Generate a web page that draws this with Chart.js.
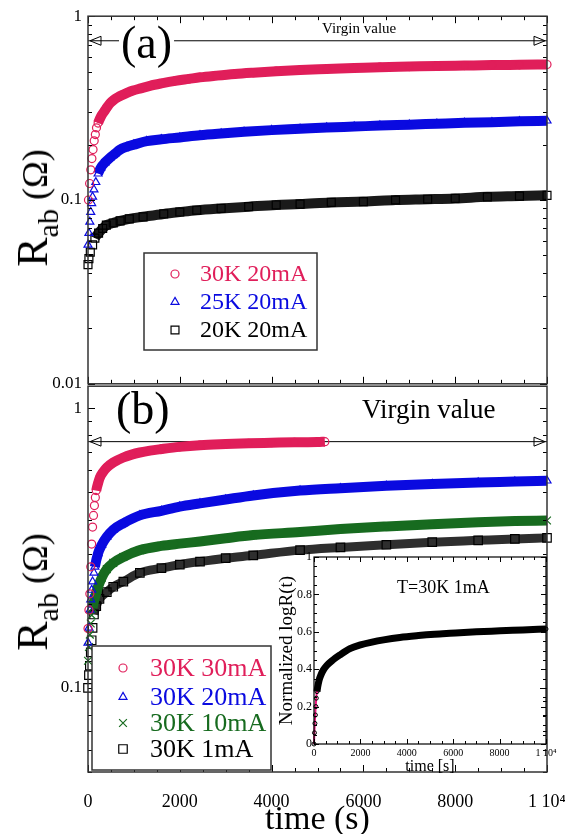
<!DOCTYPE html>
<html><head><meta charset="utf-8">
<script src="https://cdn.jsdelivr.net/npm/chart.js@4.4.0/dist/chart.umd.min.js"></script>
<style>
html,body{margin:0;padding:0;background:#fff;}
body{width:565px;height:834px;position:relative;overflow:hidden;}
canvas{position:absolute;}
.lbl{position:absolute;font-family:'Liberation Serif','Times New Roman',serif;color:#000;white-space:nowrap;line-height:1;}
.rot{transform:translate(-50%,-50%) rotate(-90deg);}
</style></head><body>
<canvas id="ca" width="600" height="400" style="left:0;top:0"></canvas>
<canvas id="cb" width="600" height="480" style="left:0;top:370px"></canvas>
<canvas id="ci" width="295" height="232" style="left:270px;top:545px"></canvas>
<div class="lbl rot" style="left:33px;top:208px;"><span style="font-size:44px">R</span><span style="font-size:30px;position:relative;top:0.35em">ab</span><span style="font-size:36px">&nbsp;(Ω)</span></div>
<div class="lbl rot" style="left:33px;top:592px;"><span style="font-size:44px">R</span><span style="font-size:30px;position:relative;top:0.35em">ab</span><span style="font-size:36px">&nbsp;(Ω)</span></div>
<script>
const serif = "'Liberation Serif','Times New Roman',serif";

// ---------- Panel (a) data ----------
const tA30 = [10,35,60,85,110,135,160,185,220,260,300,360,420,480,560,650,750,850,980,1150,1350,1600,1900,2200,2440,2800,3200,3600,4100,4620,5200,5800,6360,7000,7600,8200,8800,9400,10000];
const rA30 = [0.100,0.123,0.146,0.168,0.188,0.210,0.227,0.247,0.262,0.277,0.290,0.305,0.321,0.336,0.350,0.362,0.373,0.383,0.394,0.405,0.418,0.431,0.445,0.456,0.465,0.475,0.485,0.493,0.502,0.510,0.516,0.522,0.528,0.532,0.536,0.539,0.542,0.544,0.546];
const tA25 = [0,20,40,60,80,100,130,170,220,280,370,480,580,700,850,1000,1280,1600,2000,2440,2900,3400,4000,4620,5200,5800,6360,7000,7600,8200,8800,9400,10000];
const rA25 = [0.057,0.066,0.076,0.086,0.096,0.104,0.114,0.125,0.139,0.150,0.160,0.170,0.178,0.188,0.195,0.200,0.209,0.214,0.219,0.225,0.230,0.235,0.240,0.244,0.248,0.251,0.254,0.257,0.260,0.263,0.265,0.268,0.270];
const tA20 = [0,20,50,100,150,230,320,400,550,700,900,1200,1650,2000,2370,2900,3500,4100,4620,5300,6000,6700,7400,8000,8700,9400,10000];
const rA20 = [0.0445,0.048,0.052,0.057,0.062,0.066,0.070,0.073,0.075,0.077,0.079,0.081,0.084,0.086,0.088,0.090,0.092,0.094,0.095,0.097,0.098,0.100,0.101,0.102,0.104,0.105,0.106];
const virginA = 0.735;
const labelsA = ['30K 20mA','25K 20mA','20K 20mA'];

// ---------- Panel (b) data ----------
const tB30 = [0,20,40,60,80,100,120,140,160,180,220,260,330,410,550,770,950,1130,1350,1600,2000,2440,3000,3500,4000,4500,5000,5160];
const rB30 = [0.163,0.190,0.217,0.271,0.327,0.376,0.414,0.449,0.480,0.508,0.540,0.566,0.592,0.614,0.640,0.667,0.683,0.695,0.706,0.715,0.728,0.738,0.745,0.750,0.753,0.756,0.758,0.760];
const tB20 = [0,20,45,60,80,100,130,150,220,300,410,550,770,1130,1600,2000,2440,3000,3600,4620,5500,6500,7500,8500,9300,10000];
const rB20 = [0.145,0.164,0.190,0.207,0.224,0.240,0.258,0.271,0.303,0.325,0.347,0.368,0.388,0.414,0.430,0.445,0.457,0.472,0.488,0.508,0.518,0.528,0.536,0.543,0.547,0.551];
const tB10 = [0,20,40,60,80,100,150,200,300,410,550,770,1130,1600,2000,2440,3000,3600,4620,5500,6500,7500,8500,9300,10000];
const rB10 = [0.125,0.140,0.155,0.170,0.182,0.193,0.210,0.225,0.248,0.266,0.280,0.294,0.311,0.322,0.328,0.334,0.343,0.352,0.361,0.370,0.378,0.385,0.391,0.395,0.397];
const tB1 = [0,20,40,60,80,100,130,180,250,410,550,770,1130,1600,2000,2440,3000,3600,4620,5500,6500,7500,8500,9300,10000];
const rB1 = [0.100,0.111,0.120,0.134,0.148,0.164,0.183,0.196,0.208,0.220,0.230,0.240,0.258,0.268,0.276,0.283,0.291,0.298,0.311,0.318,0.325,0.332,0.337,0.341,0.344];
const virginB = 0.76;
const labelsB = ['30K 30mA','30K 20mA','30K 10mA','30K 1mA'];

// ---------- Inset data ----------
const tIn = [0,20,40,60,80,100,130,160,220,300,400,550,820,1100,1550,2000,2500,3000,3700,4500,5200,5860,7000,8020,9000,10000];
const nIn = [0,0.06,0.11,0.155,0.2,0.245,0.28,0.306,0.342,0.37,0.395,0.42,0.45,0.475,0.51,0.53,0.545,0.557,0.57,0.58,0.587,0.592,0.6,0.605,0.61,0.615];
const nFit = [0,0.075,0.13,0.175,0.215,0.25,0.28,0.3,0.33,0.358,0.383,0.408,0.44,0.465,0.5,0.52,0.537,0.55,0.563,0.575,0.583,0.589,0.598,0.604,0.61,0.618];

// ---------- tick labels ----------
const xTickVals = [0,2000,4000,6000,8000,10000];
const xTickLabels = ['0','2000','4000','6000','8000','1 10⁴'];
const yTickValsA = [0.01,0.1,1];
const yTickLabelsA = ['0.01','0.1','1'];
const yTickValsB = [0.1,1];
const yTickLabelsB = ['0.1','1'];
const inYVals = [0,0.2,0.4,0.6,0.8,1];
const inYLabels = ['0','0.2','0.4','0.6','0.8','1'];

const RED='#e01e5a', BLUE='#0a0ae0', GREEN='#176b1f', BLACK='#000';

function pts(ts, vs){ return ts.map((t,i)=>({x:t,y:vs[i]})); }
function series(label, ts, vs, color, band, textColor, style, r, lineFrom, bw){
  return {label, data:pts(ts,vs), textColor, borderColor:band, borderWidth:bw||10,
    pointStyle:style, pointRadius:r, pointHoverRadius:r, pointBorderColor:color,
    pointBackgroundColor:'rgba(0,0,0,0)', pointBorderWidth:1.2,
    cubicInterpolationMode:'monotone', clip:false,
    segment:{borderColor:c=> c.p0.parsed.x < lineFrom ? 'rgba(0,0,0,0)' : band}};
}
function virgin(v){
  return {label:'virgin', isVirgin:true, data:[{x:0,y:v},{x:10000,y:v}], borderColor:'#000', borderWidth:1, pointRadius:0, clip:false};
}
function lookup(vals, labels){
  return v => { const i = vals.findIndex(t => Math.abs(t - v) <= Math.abs(t)*1e-6 + 1e-9); return i>=0 ? labels[i] : ''; };
}

let pid=0;
function decor(cfg){
  return {id:'decor'+(++pid), afterDraw(chart){
    const {ctx, chartArea:a, scales:{x,y}} = chart;
    ctx.save();
    ctx.strokeStyle='#000'; ctx.lineWidth=1;
    const line=(x1,y1,x2,y2)=>{ctx.beginPath();ctx.moveTo(x1,y1);ctx.lineTo(x2,y2);ctx.stroke();};
    for(let v=x.min; v<=x.max+1e-6; v+=cfg.xMinor){
      const px=Math.round(x.getPixelForValue(v))+0.5;
      const major=Math.abs(v/cfg.xMajor-Math.round(v/cfg.xMajor))<1e-6;
      const L=major?cfg.maj:cfg.min;
      if(cfg.bottom) line(px,a.bottom,px,a.bottom-L);
      if(cfg.top) line(px,a.top,px,a.top+L);
    }
    const yv=[];
    if(cfg.log){
      for(let d=Math.floor(Math.log10(y.min)); d<=Math.ceil(Math.log10(y.max)); d++)
        for(let m=1;m<=9;m++){const v=m*Math.pow(10,d); if(v>=y.min*0.999&&v<=y.max*1.001) yv.push([v,m===1]);}
    } else {
      for(let v=y.min; v<=y.max+1e-6; v+=cfg.yMinor) yv.push([v,Math.abs(v/cfg.yMajor-Math.round(v/cfg.yMajor))<1e-6]);
    }
    yv.forEach(([v,maj])=>{
      const py=Math.round(y.getPixelForValue(v))+0.5; const L=maj?cfg.maj:cfg.min;
      line(a.left,py,a.left+L,py); line(a.right,py,a.right-L,py);
    });
    ctx.strokeStyle=cfg.frameColor||'#333'; ctx.lineWidth=cfg.frameW||1.5;
    ctx.strokeRect(a.left,a.top,a.right-a.left,a.bottom-a.top);
    chart.data.datasets.forEach((d,i)=>{
      if(!d.isVirgin) return;
      const m=chart.getDatasetMeta(i); const p0=m.data[0], p1=m.data[m.data.length-1];
      ctx.strokeStyle='#000'; ctx.lineWidth=1;
      ctx.beginPath(); ctx.moveTo(p0.x+13,p0.y-4.5); ctx.lineTo(p0.x+2,p0.y); ctx.lineTo(p0.x+13,p0.y+4.5); ctx.closePath(); ctx.stroke();
      ctx.beginPath(); ctx.moveTo(p1.x-13,p1.y-4.5); ctx.lineTo(p1.x-2,p1.y); ctx.lineTo(p1.x-13,p1.y+4.5); ctx.closePath(); ctx.stroke();
    });
    (cfg.texts||[]).forEach(t=>{
      ctx.font=t.font; ctx.textAlign='left'; ctx.textBaseline='alphabetic';
      if(t.bg){ const w=ctx.measureText(t.text).width; ctx.fillStyle='#fff'; ctx.fillRect(t.x-2,t.y-t.size*0.8,w+4,t.size); }
      ctx.fillStyle=t.color||'#000'; ctx.fillText(t.text,t.x,t.y);
    });
    const L=cfg.legend;
    if(L){
      ctx.fillStyle='#fff'; ctx.fillRect(L.x,L.y,L.w,L.h);
      ctx.strokeStyle='#333'; ctx.lineWidth=1.5; ctx.strokeRect(L.x,L.y,L.w,L.h);
      const ds=chart.data.datasets.filter(d=>!d.isVirgin);
      ds.forEach((d,i)=>{
        const yy=L.rows[i];
        ctx.strokeStyle=d.pointBorderColor; ctx.fillStyle='rgba(0,0,0,0)'; ctx.lineWidth=1.2;
        Chart.helpers.drawPoint(ctx,{pointStyle:d.pointStyle,radius:d.pointRadius,rotation:0,borderWidth:1.2},L.mx,yy);
        ctx.fillStyle=d.textColor; ctx.font=L.font; ctx.textAlign='left'; ctx.textBaseline='middle';
        ctx.fillText(d.label,L.tx,yy+1);
      });
    }
    ctx.restore();
  }};
}

const baseOpts = { responsive:false, animation:false, events:[], plugins:{legend:{display:false},tooltip:{enabled:false}} };

new Chart(document.getElementById('ca'), {
  type:'line',
  data:{datasets:[
    series(labelsA[0], tA30, rA30, RED, RED, RED, 'circle', 4, 220),
    series(labelsA[1], tA25, rA25, BLUE, BLUE, BLUE, 'triangle', 4.6, 220),
    series(labelsA[2], tA20, rA20, BLACK, '#1a1a1a', BLACK, 'rect', 5.6, 120),
    virgin(virginA)
  ]},
  options:{...baseOpts, layout:{padding:{left:0,right:53,top:12,bottom:0}},
    scales:{
      x:{type:'linear',min:0,max:10000,grid:{display:false,drawTicks:false},border:{display:false},ticks:{display:false,stepSize:2000},afterFit(s){s.height=16;}},
      y:{type:'logarithmic',min:0.01,max:1,grid:{display:false,drawTicks:false},border:{display:false},
         ticks:{autoSkip:false,color:'#000',font:{family:serif,size:17},padding:6,callback:lookup(yTickValsA,yTickLabelsA)},
         afterFit(s){s.width=88;}}
    }},
  plugins:[decor({xMinor:500,xMajor:2000,maj:7,min:4,top:true,bottom:true,log:true,
    texts:[{text:'(a)',x:121,y:58,size:46,font:`46px ${serif}`,bg:true},
           {text:'Virgin value',x:322,y:33,size:15,font:`15px ${serif}`}],
    legend:{x:144,y:253,w:173,h:97,mx:175,tx:200,rows:[274,302,330],font:`24px ${serif}`}})]
});

const OB=370;
new Chart(document.getElementById('cb'), {
  type:'line',
  data:{datasets:[
    series(labelsB[0], tB30, rB30, RED, RED, RED, 'circle', 4, 170),
    series(labelsB[1], tB20, rB20, BLUE, BLUE, BLUE, 'triangle', 4.6, 140),
    series(labelsB[2], tB10, rB10, GREEN, GREEN, GREEN, 'crossRot', 5.5, 100),
    series(labelsB[3], tB1, rB1, BLACK, '#2e2e2e', BLACK, 'rect', 6, 120, 9),
    virgin(virginB)
  ]},
  options:{...baseOpts, layout:{padding:{left:0,right:53,top:14,bottom:0}},
    scales:{
      x:{type:'linear',min:0,max:10000,grid:{display:false,drawTicks:false},border:{display:false},
         ticks:{stepSize:2000,color:'#000',font:{family:serif,size:18},padding:19,maxRotation:0,autoSkip:false,callback:lookup(xTickVals,xTickLabels)},
         title:{display:true,text:'time (s)',color:'#000',font:{family:serif,size:34},padding:{top:0,bottom:10}},
         afterFit(s){s.height=78;}},
      y:{type:'logarithmic',min:0.05,max:1.2,grid:{display:false,drawTicks:false},border:{display:false},
         ticks:{autoSkip:false,color:'#000',font:{family:serif,size:17},padding:6,callback:lookup(yTickValsB,yTickLabelsB)},
         afterFit(s){s.width=88;}}
    }},
  plugins:[decor({xMinor:500,xMajor:2000,maj:7,min:4,top:false,bottom:true,log:true,
    texts:[{text:'(b)',x:116,y:424-OB,size:46,font:`46px ${serif}`},
           {text:'Virgin value',x:362,y:418-OB,size:27,font:`27px ${serif}`}],
    legend:{x:92,y:646-OB,w:179,h:124,mx:123,tx:150,rows:[668-OB,697-OB,723-OB,749-OB],font:`26px ${serif}`}})]
});

new Chart(document.getElementById('ci'), {
  type:'line',
  data:{datasets:[
    {label:'data', data:pts(tIn,nIn), borderColor:'#000', borderWidth:7, pointStyle:'circle', pointRadius:2, pointBorderColor:'#000', pointBackgroundColor:'rgba(0,0,0,0)', pointBorderWidth:1, cubicInterpolationMode:'monotone', clip:false,
     segment:{borderColor:c=> c.p0.parsed.x < 130 ? 'rgba(0,0,0,0)' : '#000'}},
    {label:'fit', data:pts(tIn,nFit), borderColor:'#f0157f', borderWidth:2, pointRadius:0, cubicInterpolationMode:'monotone', clip:false}
  ]},
  options:{...baseOpts, layout:{padding:{left:0,right:19,top:12,bottom:0}},
    scales:{
      x:{type:'linear',min:0,max:10000,grid:{display:false,drawTicks:false},border:{display:false},
         ticks:{stepSize:2000,color:'#000',font:{family:serif,size:10},padding:3,maxRotation:0,autoSkip:false,callback:lookup(xTickVals,xTickLabels)},
         title:{display:true,text:'time [s]',color:'#000',font:{family:serif,size:16},padding:{top:0,bottom:1}},
         afterFit(s){s.height=33;}},
      y:{type:'linear',min:0,max:1,grid:{display:false,drawTicks:false},border:{display:false},
         ticks:{stepSize:0.2,color:'#000',font:{family:serif,size:12},padding:2,autoSkip:false,callback:lookup(inYVals,inYLabels)},
         title:{display:true,text:'Normalized logR(t)',color:'#000',font:{family:serif,size:19},padding:{top:6,bottom:0}},
         afterFit(s){s.width=44;}}
    }},
  plugins:[decor({xMinor:500,xMajor:2000,maj:5,min:3,top:true,bottom:true,log:false,yMinor:0.05,yMajor:0.2,frameColor:'#000',frameW:1.2,
    texts:[{text:'T=30K 1mA',x:397-270,y:593-545,size:18,font:`18px ${serif}`}]})]
});
</script>
</body></html>
